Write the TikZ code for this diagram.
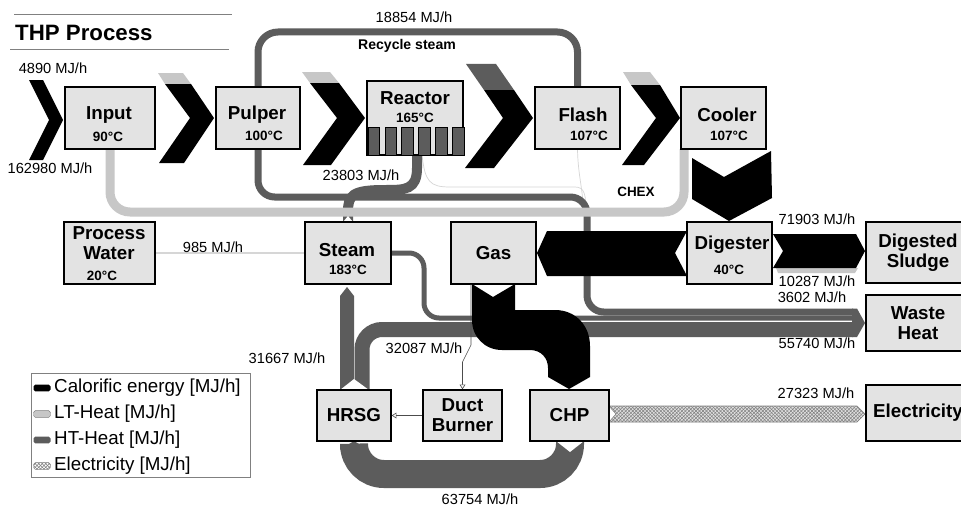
\documentclass[tikz,border=0pt]{standalone}
\usepackage{fontspec}
\setmainfont{Liberation Sans}
\usetikzlibrary{arrows.meta,patterns,backgrounds}

\definecolor{boxfill}{gray}{0.89}
\definecolor{ltheat}{gray}{0.78}
\definecolor{htheat}{gray}{0.36}
\definecolor{faintgray}{gray}{0.84}

\begin{document}
\begin{tikzpicture}[x=0.03cm, y=-0.03cm,
    box/.style 2 args = {draw, line width=1.3pt, fill=boxfill, minimum width=#1*0.03cm, minimum height=#2*0.03cm, inner sep=0pt, align=center, font=\fontsize{16}{17}\selectfont\bfseries},
    boxname/.style = {inner sep=0pt, align=center, font=\fontsize{16}{17}\selectfont\bfseries},
    temp/.style = {inner sep=0pt, font=\fontsize{11.5}{13}\selectfont\bfseries},
    flow/.style = {inner sep=0pt, font=\fontsize{12.5}{14}\selectfont},
    band/.style = {line width=#1*0.03cm},
    faint/.style = {draw=faintgray, line width=0.6pt},
    link/.style = {draw=gray!60!black, line width=0.5pt, -{Triangle[open,length=4pt,width=5pt]}},
    swatch/.style = {rounded corners=1.5pt, minimum width=0.51cm, minimum height=0.2cm, inner sep=0pt},
    calsw/.style = {swatch, fill=black},
    ltsw/.style = {swatch, fill=ltheat, draw=gray},
    htsw/.style = {swatch, fill=htheat},
    elsw/.style = {swatch, draw=gray, pattern=crosshatch, pattern color=gray},
    legtext/.style = {inner sep=0pt, anchor=west, font=\fontsize{16}{18}\selectfont}
  ]
  \useasboundingbox (0,0) rectangle (961,506);

  % THP line
  \node[box={90}{62}] (input) at (110,118) {};
  \node[boxname] (input-n) at (109,115) {Input};
  \node[temp] (input-t) at (108,137) {90°C};
  \node[box={84}{62}] (pulper) at (258,118) {};
  \node[boxname] (pulper-n) at (257,115) {Pulper};
  \node[temp] (pulper-t) at (264,136) {100°C};
  \node[box={96}{74}] (reactor) at (415,118) {};
  \node[boxname] (reactor-n) at (415,98) {Reactor};
  \node[temp] (reactor-t) at (415,118) {165°C};
  \foreach \i in {0,...,5}
    \filldraw[fill=htheat, draw=black, line width=0.6pt] (368+16.9*\i,127) rectangle ++(11.5,28);
  \node[box={85}{62}] (flash) at (577.5,118) {};
  \node[boxname] (flash-n) at (583,115) {Flash};
  \node[temp] (flash-t) at (589,136) {107°C};
  \node[box={85}{62}] (cooler) at (723.5,118) {};
  \node[boxname] (cooler-n) at (727,115) {Cooler};
  \node[temp] (cooler-t) at (729,136) {107°C};

  % middle row
  \node[box={91}{62}] (water) at (109.5,253) {};
  \node[boxname] (water-n) at (109,243) {Process\\Water};
  \node[temp] (water-t) at (102,276) {20°C};
  \node[box={86}{62}] (steam) at (348,253) {};
  \node[boxname] (steam-n) at (347,250) {Steam};
  \node[temp] (steam-t) at (348,270) {183°C};
  \node[box={85}{62}] (gas) at (493.5,253) {Gas};
  \node[box={85}{62}] (digester) at (729.5,253) {};
  \node[boxname] (digester-n) at (732,245) {Digester};
  \node[temp] (digester-t) at (729,270) {40°C};
  \node[box={104}{61}] (sludge) at (918,252.5) {Digested\\Sludge};
  \node[box={104}{56}] (waste) at (918,323) {Waste\\Heat};

  % CHP plant
  \node[box={74}{51}] (hrsg) at (354,415.5) {HRSG};
  \node[box={79}{51}] (burner) at (462.5,415.5) {Duct\\Burner};
  \node[box={79}{51}] (chp) at (569.5,415.5) {CHP};
  \node[box={104}{56}] (elec) at (918,413) {Electricity};

  \begin{scope}[on background layer]
    \fill[white] (0,0) rectangle (961,506);
    % thin LT lines
    \draw[faint] (422,155) .. controls (425,182) and (430,187) .. (450,187) -- (575,187)
      .. controls (585,187) and (586,195) .. (586,215);
    \draw[faint] (flash.south) .. controls (578,175) and (583,190) .. (584,215);
    \draw[faint, line width=1pt] (water.east) -- (steam.west);

    % HT heat
    \draw[htheat, band=7, rounded corners=0.6cm] (flash.north) -- (577.5,32) -- (258,32) -- (pulper.north);
    \draw[htheat, band=7, rounded corners=0.5cm] (pulper.south) -- (258,197) -- (587,197) -- (587,312) -- (853,312);
    \draw[htheat, band=10] (417,156) -- (417,168) .. controls (417,190) and (405,190) .. (385,190)
      .. controls (352,190) and (348,195) .. (348,212) -- (steam.north);
    \draw[htheat, band=5, rounded corners=0.45cm] (steam.east) -- (424,253) -- (424,318) -- (853,318);
    \fill[htheat] (340,390) -- (340,296) -- (347,287) -- (354,296) -- (354,390) -- cycle;
    \draw[htheat, band=15, rounded corners=0.6cm] (362,390) -- (362,329.5) -- (853,329.5);
    \fill[htheat] (852,308.5) -- (857,308.5) -- (865,323) -- (857,337) -- (852,337) -- cycle;
    \draw[htheat, band=28, rounded corners=0.9cm] (570,441) -- (570,474) -- (354,474) -- (354,449);
    \fill[htheat] (340,449.5) -- (354,441) -- (368,449.5) -- cycle;

    % LT heat back to the input
    \draw[ltheat, band=9, rounded corners=0.6cm] (684,149) -- (684,212) -- (110,212) -- (input.south);

    % calorific energy through the THP line
    \fill (29,80) -- (43,80) -- (63,120) -- (43,160) -- (29,160) -- (49,120) -- cycle;
    \fill[ltheat] (158,73) -- (183,73) -- (191,84) -- (165,84) -- cycle;
    \fill (165,84) -- (191,84) -- (214,118) -- (184,163) -- (159,163) -- (190,118) -- cycle;
    \fill[ltheat] (302,72) -- (330,72) -- (339,83) -- (310,83) -- cycle;
    \fill (310,83) -- (339,83) -- (365,118) -- (331,165) -- (303,165) -- (337,118) -- cycle;
    \fill[htheat] (466,64) -- (496,64) -- (514,90) -- (484,90) -- cycle;
    \fill (484,90) -- (514,90) -- (533,118) -- (494,168) -- (465,168) -- (503,118) -- cycle;
    \fill[ltheat] (623,72) -- (650,72) -- (660,85) -- (631,85) -- cycle;
    \fill (631,85) -- (660,85) -- (680,118) -- (644,165) -- (622,165) -- (656,118) -- cycle;
    \fill (692,158) -- (724,177) -- (771,151) -- (772,198) -- (729,221) -- (692,199) -- cycle;

    % digester products
    \fill (537,253) -- (547,231) -- (687,231) -- (675,253) -- (687,276) -- (547,276) -- cycle;
    \fill[ltheat] (776,268) -- (858,268) -- (855,273) -- (778,273) -- cycle;
    \fill (773,234) -- (856,234) -- (865,251) -- (856,268) -- (773,268) -- (783,251) -- cycle;
    \fill (472,284) -- (493,297) -- (515,284) -- (515,310) -- (555,310)
      .. controls (576,310) and (590,326) .. (590,346) -- (590,377) -- (569,389) -- (548,377) -- (548,368)
      .. controls (548,358) and (541,350) .. (530,350) -- (502,350)
      .. controls (485,350) and (472,337) .. (472,320) -- cycle;

    % electricity
    \filldraw[fill=gray!25, draw=gray, line width=0.5pt, postaction={pattern=crosshatch, pattern color=gray}]
      (609,406) -- (857,406) -- (865,414) -- (857,422) -- (609,422) -- (616,414) -- cycle;

    % source notches
    \fill[white] (556,441) -- (570,452) -- (584,441) -- cycle;
    \fill[white] (340,390) -- (354,379) -- (369,390) -- cycle;
    \fill[white] (343,222) -- (348,216) -- (353,222) -- cycle;
  \end{scope}

  \draw[link] (471,284) -- (471,345) -- (462.5,362) -- (burner.north);
  \draw[link] (burner.west) -- (hrsg.east);

  % flow labels
  \node[flow] (f4890) at (53,68) {4890 MJ/h};
  \node[flow] (f162980) at (50,168) {162980 MJ/h};
  \node[flow] (f18854) at (414,17) {18854 MJ/h};
  \node[inner sep=0pt, font=\fontsize{12}{14}\selectfont\bfseries] (recycle) at (407,46) {Recycle steam};
  \node[flow] (f23803) at (361,175) {23803 MJ/h};
  \node[inner sep=0pt, font=\fontsize{11.5}{14}\selectfont\bfseries] (chex) at (636,192) {CHEX};
  \node[flow] (f985) at (213,247) {985 MJ/h};
  \node[flow] (f71903) at (817,219) {71903 MJ/h};
  \node[flow] (f10287) at (817,281) {10287 MJ/h};
  \node[flow] (f3602) at (812,297) {3602 MJ/h};
  \node[flow] (f55740) at (817,343) {55740 MJ/h};
  \node[flow] (f31667) at (287,358) {31667 MJ/h};
  \node[flow] (f32087) at (424,348) {32087 MJ/h};
  \node[flow] (f63754) at (480,499) {63754 MJ/h};
  \node[flow] (f27323) at (816,393) {27323 MJ/h};

  % title
  \draw[gray, line width=0.8pt] (14,14) -- (232,14);
  \draw[gray, line width=0.8pt] (10,49) -- (229,49);
  \node[inner sep=0pt, anchor=west, font=\fontsize{19}{21}\selectfont\bfseries] (title) at (15,33) {THP Process};

  % legend
  \node[draw=gray, line width=0.7pt, minimum width=219*0.03cm, minimum height=104*0.03cm, inner sep=0pt] (legend) at (140.5,425) {};
  \foreach \i/\sw/\txt in {0/calsw/{Calorific energy [MJ/h]}, 1/ltsw/{LT-Heat [MJ/h]}, 2/htsw/{HT-Heat [MJ/h]}, 3/elsw/{Electricity [MJ/h]}} {
    \node[\sw] (sw\i) at (42,388+26*\i) {};
    \node[legtext] (leg\i) at (54,388+26*\i) {\txt};
  }
\end{tikzpicture}
\end{document}
